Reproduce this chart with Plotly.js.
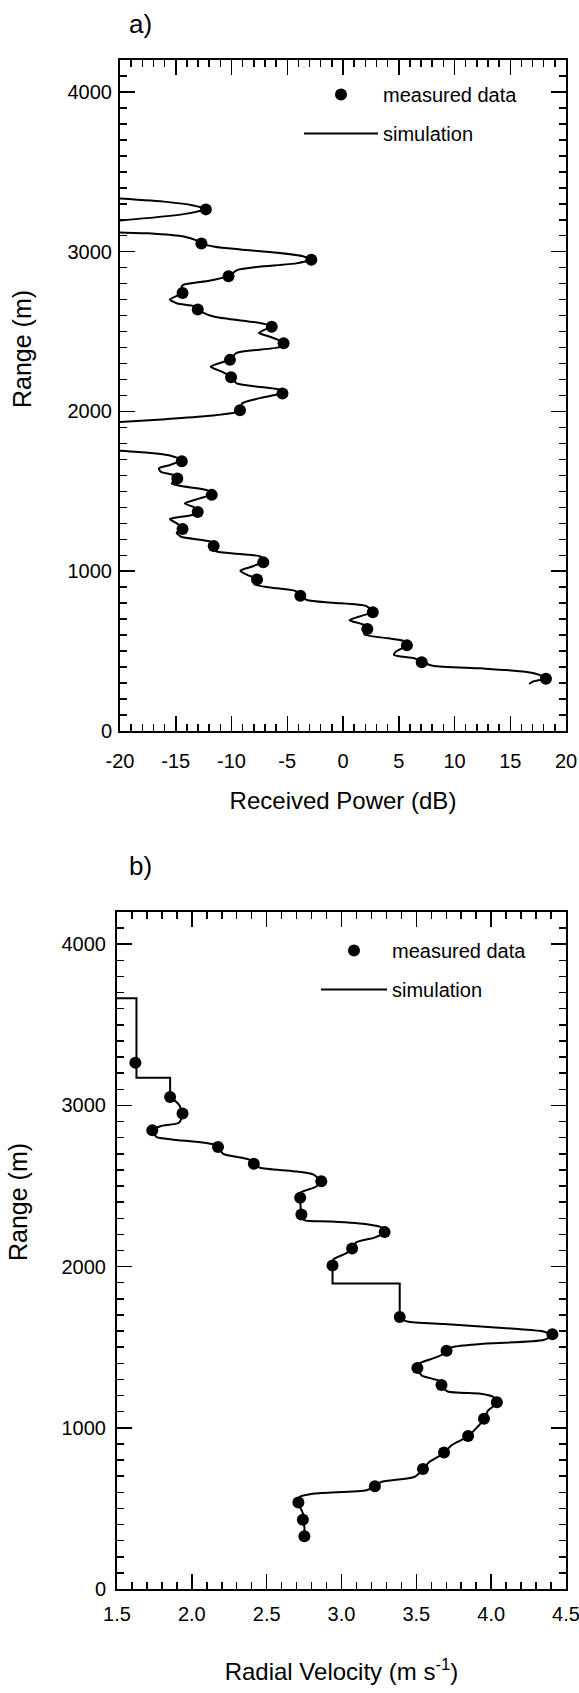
<!DOCTYPE html>
<html><head><meta charset="utf-8">
<script src="https://cdn.plot.ly/plotly-3.0.1.min.js"></script>
<style>html,body{margin:0;padding:0;background:#fff}#chart{width:579px;height:1693px}</style>
</head><body><div id="chart"></div>
<script>
// ---------- DATA ----------
// radar range gates (m) of the measured points
const rangeM = [327, 430, 536, 638, 744, 847, 949, 1056, 1158, 1265, 1371, 1478, 1580, 1688,
                2007, 2112, 2214, 2323, 2427, 2530, 2638, 2742, 2846, 2950, 3052, 3265];
// a) measured received power (dB)
const powerDb = [18.2, 7.06, 5.73, 2.18, 2.67, -3.83, -7.71, -7.15, -11.6, -14.39, -13.03, -11.77, -14.86, -14.46,
                 -9.24, -5.43, -10.04, -10.14, -5.33, -6.39, -13.03, -14.39, -10.27, -2.84, -12.7, -12.3];
// b) measured radial velocity (m/s)
const velocity = [2.752, 2.742, 2.712, 3.223, 3.544, 3.685, 3.846, 3.952, 4.038, 3.668, 3.507, 3.702, 4.409, 3.389,
                  2.94, 3.071, 3.288, 2.732, 2.724, 2.865, 2.414, 2.175, 1.736, 1.938, 1.855, 1.623];

// a) simulation, three segments
const simA1Range = [3333, 3312, 3291, 3267, 3240, 3215, 3196];
const simA1Db    = [-20, -15.85, -13.53, -12.3, -13.86, -16.85, -20];
const simA2Range = [3121, 3115, 3094, 3073, 3052, 3031, 3014, 2993, 2972, 2952, 2927, 2906, 2885, 2847, 2818, 2791, 2773, 2743,
                    2701, 2676, 2660, 2639, 2624, 2593, 2555, 2534, 2492, 2468, 2430, 2405, 2367, 2326, 2280, 2249, 2217,
                    2176, 2134, 2117, 2082, 2051, 2009, 1996, 1971, 1952, 1934];
const simA2Db    = [-20, -17.5, -14.2, -13.2, -12.7, -11.5, -9.2, -5.9, -3.6, -2.84, -4.2, -7.55, -9.5, -10.27, -12.0, -14.36, -14.5, -14.39,
                    -15.52, -14.85, -13.36, -13.03, -12.7, -11.53, -7.55, -6.39, -7.55, -6.55, -5.33, -5.56, -9.54, -10.14, -11.87, -10.87, -10.04,
                    -9.54, -5.56, -5.43, -7.55, -9.04, -9.24, -9.54, -12.2, -15.85, -20];
const simA3Range = [1754, 1742, 1725, 1696, 1665, 1644, 1623, 1602, 1588, 1550, 1533, 1508, 1483, 1456, 1425, 1400, 1377, 1352,
                    1327, 1304, 1272, 1241, 1216, 1185, 1164, 1126, 1108, 1091, 1062, 1028, 1003, 976, 951, 918, 893, 876, 851,
                    820, 803, 782, 747, 715, 694, 663, 638, 605, 580, 565, 538, 496, 476, 455, 432, 409, 392, 371, 350, 330, 309, 294];
const simA3Db    = [-20, -17.5, -15.52, -14.46, -15.52, -16.51, -16.35, -15.19, -14.86, -15.35, -14.52, -12.2, -11.77, -12.86, -14.19, -13.36, -13.03, -13.53,
                    -15.52, -15.02, -14.39, -14.92, -14.52, -11.87, -11.6, -11.47, -9.21, -7.38, -7.15, -8.21, -9.21, -8.55, -7.71, -7.95, -5.89, -4.23, -3.83,
                    -3.23, -0.91, 2.08, 2.67, 1.41, 0.58, 1.91, 2.18, 1.91, 4.07, 5.40, 5.73, 4.73, 4.57, 6.39, 7.06, 8.05, 12.37, 16.35, 17.68, 18.2, 17.0, 16.7];

// b) simulation: stepped parts and smooth parts
const simB1Range = [3665, 3665, 3172, 3172, 3053];
const simB1Vel   = [1.5, 1.63, 1.63, 1.855, 1.855];
const simB2Range = [3053, 3005, 2948, 2892, 2871, 2845, 2803, 2789, 2768, 2754, 2741, 2700, 2665, 2638, 2613, 2592, 2572, 2527,
                    2494, 2459, 2424, 2367, 2320, 2288, 2280, 2263, 2243, 2211, 2180, 2149, 2108, 2077, 2046, 2005];
const simB2Vel   = [1.855, 1.914, 1.938, 1.914, 1.79, 1.736, 1.766, 1.865, 2.086, 2.16, 2.175, 2.21, 2.38, 2.414, 2.456, 2.677, 2.81, 2.865,
                    2.825, 2.727, 2.724, 2.727, 2.732, 2.75, 2.92, 3.17, 3.27, 3.288, 3.22, 3.096, 3.071, 3.02, 2.948, 2.94];
const simB3Range = [2005, 1896, 1896, 1681];
const simB3Vel   = [2.94, 2.94, 3.389, 3.389];
const simB4Range = [1681, 1660, 1644, 1613, 1598, 1572, 1545, 1520, 1504, 1490, 1473, 1438, 1396, 1366, 1324, 1289, 1258, 1225, 1211,
                    1190, 1153, 1108, 1050, 1004, 947, 891, 843, 788, 741, 695, 664, 637, 613, 592, 571, 534, 468, 427, 385, 324];
const simB4Vel   = [3.389, 3.44, 3.685, 4.18, 4.35, 4.409, 4.35, 3.93, 3.76, 3.71, 3.702, 3.636, 3.512, 3.507, 3.537, 3.66, 3.668, 3.71, 3.93,
                    4.018, 4.038, 3.98, 3.952, 3.907, 3.846, 3.734, 3.685, 3.586, 3.544, 3.487, 3.265, 3.223, 3.167, 2.82, 2.72, 2.712, 2.742, 2.742, 2.752, 2.752];

// tick labels
const powerTicks = [-20, -15, -10, -5, 0, 5, 10, 15, 20];
const powerTickText = ['-20', '-15', '-10', '-5', '0', '5', '10', '15', '20'];
const velocityTicks = [1.5, 2.0, 2.5, 3.0, 3.5, 4.0, 4.5];
const velocityTickText = ['1.5', '2.0', '2.5', '3.0', '3.5', '4.0', '4.5'];
const rangeTicks = [0, 1000, 2000, 3000, 4000];

// ---------- BUILD ----------
const W = 579, H = 1693;
const px = v => v / W;
const py = v => 1 - v / H;
const join = (...arrs) => arrs.reduce((acc, a, i) => i ? acc.concat([null], a) : acc.concat(a), []);

const FONT = '"Liberation Sans", Arial, Helvetica, sans-serif';
const lineStyle = {color: 'black', width: 2};
const markerStyle = {color: 'black', size: 12};

const traces = [
  {x: join(simA1Db, simA2Db, simA3Db), y: join(simA1Range, simA2Range, simA3Range), type: 'scatter', mode: 'lines',
   line: Object.assign({shape: 'spline', smoothing: 0.6}, lineStyle), connectgaps: false,
   name: 'simulation', legend: 'legend', legendrank: 2, legendgroup: 'sa', xaxis: 'x', yaxis: 'y', hoverinfo: 'skip'},
  {x: powerDb, y: rangeM, type: 'scatter', mode: 'markers', marker: markerStyle,
   name: 'measured data', legend: 'legend', legendrank: 1, legendgroup: 'ma', xaxis: 'x', yaxis: 'y'},

  {x: join(simB1Vel, simB3Vel), y: join(simB1Range, simB3Range), type: 'scatter', mode: 'lines',
   line: lineStyle, connectgaps: false, showlegend: false, xaxis: 'x2', yaxis: 'y2', hoverinfo: 'skip'},
  {x: join(simB2Vel, simB4Vel), y: join(simB2Range, simB4Range), type: 'scatter', mode: 'lines',
   line: Object.assign({shape: 'spline', smoothing: 0.6}, lineStyle), connectgaps: false,
   name: 'simulation', legend: 'legend2', legendrank: 2, legendgroup: 'sb', xaxis: 'x2', yaxis: 'y2', hoverinfo: 'skip'},
  {x: velocity, y: rangeM, type: 'scatter', mode: 'markers', marker: markerStyle,
   name: 'measured data', legend: 'legend2', legendrank: 1, legendgroup: 'mb', xaxis: 'x2', yaxis: 'y2'}
];

const tickCommon = {
  ticks: 'inside', ticklen: 15, tickwidth: 1.5, tickcolor: 'black',
  showline: true, linewidth: 2, linecolor: 'black', mirror: 'ticks',
  showgrid: false, zeroline: false, automargin: false, fixedrange: true,
  ticklabeloverflow: 'allow',
  tickfont: {family: FONT, size: 20, color: 'black'}
};
const minorX = d => ({dtick: d, ticks: 'inside', ticklen: 7, tickwidth: 1.5, tickcolor: 'black', showgrid: false});

const layout = {
  width: W, height: H,
  margin: {l: 0, r: 0, t: 0, b: 0},
  paper_bgcolor: 'white', plot_bgcolor: 'white',
  font: {family: FONT, color: 'black', size: 20},
  showlegend: true,
  xaxis: Object.assign({}, tickCommon, {
    domain: [px(120), px(566)], anchor: 'y', range: [-20, 20],
    tickmode: 'array', tickvals: powerTicks, ticktext: powerTickText,
    minor: minorX(1), ticklabelstandoff: 11,
    title: {text: 'Received Power (dB)', font: {family: FONT, size: 24, color: 'black'}, standoff: 21}
  }),
  yaxis: Object.assign({}, tickCommon, {
    domain: [py(731), py(60)], anchor: 'x', range: [0, 4200],
    tickmode: 'array', tickvals: rangeTicks, minor: minorX(100), ticklabelstandoff: 2
  }),
  xaxis2: Object.assign({}, tickCommon, {
    domain: [px(117), px(566)], anchor: 'y2', range: [1.5, 4.5],
    tickmode: 'array', tickvals: velocityTicks, ticktext: velocityTickText,
    minor: {tick0: 1.5, dtick: 0.1, ticks: 'inside', ticklen: 7, tickwidth: 1.5, tickcolor: 'black', showgrid: false},
    ticklabelstandoff: 6,
    title: {text: 'Radial Velocity (m s<sup>-1</sup>)', font: {family: FONT, size: 24, color: 'black'}, standoff: 39}
  }),
  yaxis2: Object.assign({}, tickCommon, {
    domain: [py(1589), py(912)], anchor: 'x2', range: [0, 4200],
    tickmode: 'array', tickvals: rangeTicks, minor: minorX(100), ticklabelstandoff: 5
  }),
  legend: {x: px(299), y: py(75), xanchor: 'left', yanchor: 'top', bgcolor: 'rgba(0,0,0,0)',
           borderwidth: 0, itemwidth: 74, tracegroupgap: 10, font: {family: FONT, size: 20, color: 'black'}},
  legend2: {x: px(316), y: py(931), xanchor: 'left', yanchor: 'top', bgcolor: 'rgba(0,0,0,0)',
            borderwidth: 0, itemwidth: 66, tracegroupgap: 10, font: {family: FONT, size: 20, color: 'black'}},
  annotations: [
    {text: 'a)', xref: 'paper', yref: 'paper', x: px(127), y: py(24), xanchor: 'left', yanchor: 'middle',
     showarrow: false, font: {family: FONT, size: 26, color: 'black'}},
    {text: 'b)', xref: 'paper', yref: 'paper', x: px(127), y: py(866), xanchor: 'left', yanchor: 'middle',
     showarrow: false, font: {family: FONT, size: 26, color: 'black'}},
    {text: 'Range (m)', xref: 'paper', yref: 'paper', x: px(22), y: py(349), xanchor: 'center', yanchor: 'middle',
     textangle: -90, showarrow: false, font: {family: FONT, size: 25, color: 'black'}},
    {text: 'Range (m)', xref: 'paper', yref: 'paper', x: px(18), y: py(1202), xanchor: 'center', yanchor: 'middle',
     textangle: -90, showarrow: false, font: {family: FONT, size: 25, color: 'black'}}
  ]
};

Plotly.newPlot('chart', traces, layout, {staticPlot: true, displayModeBar: false});
</script></body></html>
